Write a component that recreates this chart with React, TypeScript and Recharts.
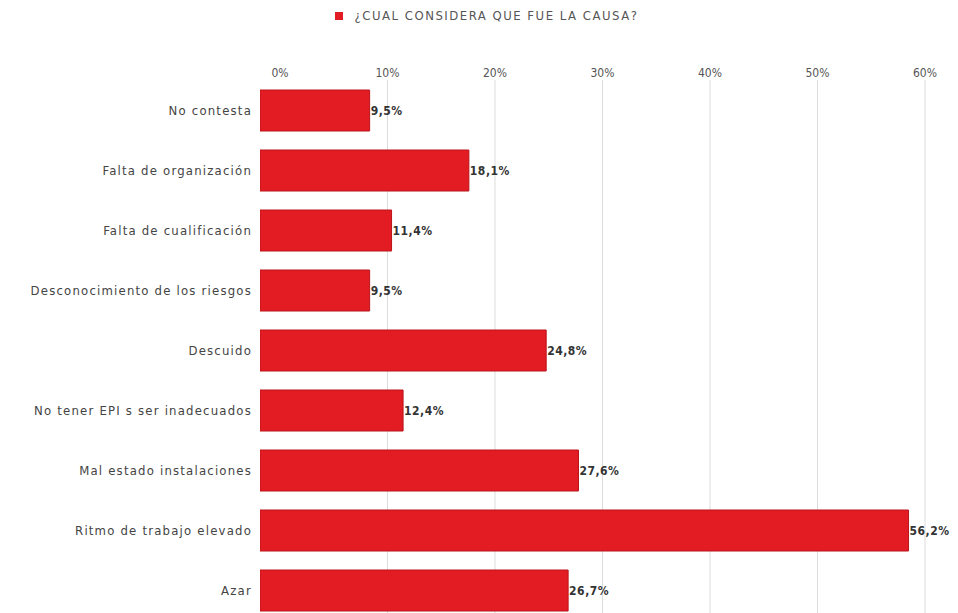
import { BarChart, Bar, XAxis, YAxis, CartesianGrid, Legend, LabelList } from 'recharts';

const categories = [
  'No contesta',
  'Falta de organización',
  'Falta de cualificación',
  'Desconocimiento de los riesgos',
  'Descuido',
  'No tener EPI s ser inadecuados',
  'Mal estado instalaciones',
  'Ritmo de trabajo elevado',
  'Azar',
];
const values = [9.5, 18.1, 11.4, 9.5, 24.8, 12.4, 27.6, 56.2, 26.7];
const tickValues = [0, 10, 20, 30, 40, 50, 60];
const seriesName = '¿CUAL CONSIDERA QUE FUE LA CAUSA?';

const data = categories.map((name, i) => ({ name, value: values[i] }));

const RED = '#e31b23';
const FONT = '"DejaVu Sans Condensed", "DejaVu Sans", sans-serif';
const tickDomain: [number, number] = [-1.86, 61.86];

const fmt = (v: number) => `${v.toFixed(1).replace('.', ',')}%`;

function LegendContent() {
  return (
    <div style={{ display: 'flex', alignItems: 'center', justifyContent: 'center', fontFamily: FONT, fontSize: 13, color: '#555', letterSpacing: 1.5, paddingTop: 2, marginLeft: 28 }}>
      <span style={{ width: 8, height: 8, background: RED, display: 'inline-block', marginRight: 12 }} />
      <span>{seriesName}</span>
    </div>
  );
}

// grid lines only at the non-zero ticks of the percentage axis
const gridX = ({ xAxis, offset }: any) => {
  const ticks = tickValues.filter((v) => v > 0);
  if (xAxis && typeof xAxis.scale === 'function') return ticks.map((v) => xAxis.scale(v));
  const [d0, d1] = tickDomain;
  return ticks.map((v) => offset.left + ((v - d0) / (d1 - d0)) * offset.width);
};

export default function App() {
  return (
    <div style={{ position: 'absolute', left: 0, top: 0, background: '#fff' }}>
      <BarChart
        width={958}
        height={620}
        data={data}
        layout="vertical"
        margin={{ top: 6, right: 13, left: 0, bottom: 0 }}
      >
        <Legend verticalAlign="top" height={22} content={<LegendContent />} />
        <CartesianGrid
          xAxisId="tick"
          horizontal={false}
          stroke="#dcdcdc"
          verticalCoordinatesGenerator={gridX}
        />
        <XAxis
          xAxisId="tick"
          type="number"
          orientation="top"
          domain={tickDomain}
          ticks={tickValues}
          allowDataOverflow
          height={52}
          tickFormatter={(v: number) => `${v}%`}
          tick={{ fill: '#555', fontSize: 12, fontFamily: FONT, dy: 5 }}
          tickLine={false}
          axisLine={false}
          tickMargin={2}
        />
        <XAxis xAxisId="bar" type="number" domain={[0, 59.36]} allowDataOverflow hide />
        <YAxis
          type="category"
          dataKey="name"
          width={260}
          tick={{ fill: '#444', fontSize: 13, fontFamily: FONT, letterSpacing: 1.2 }}
          tickLine={false}
          axisLine={false}
          tickMargin={2}
        />
        <Bar
          xAxisId="bar"
          dataKey="value"
          name={seriesName}
          fill={RED}
          stroke="#b9151b"
          strokeWidth={1}
          barSize={41}
          isAnimationActive={false}
        >
          <LabelList
            dataKey="value"
            position="right"
            offset={1}
            formatter={(v: any) => fmt(Number(v))}
            style={{ fill: '#333', fontSize: 12, fontWeight: 'bold', fontFamily: FONT, letterSpacing: 0.5 }}
          />
        </Bar>
      </BarChart>
    </div>
  );
}
